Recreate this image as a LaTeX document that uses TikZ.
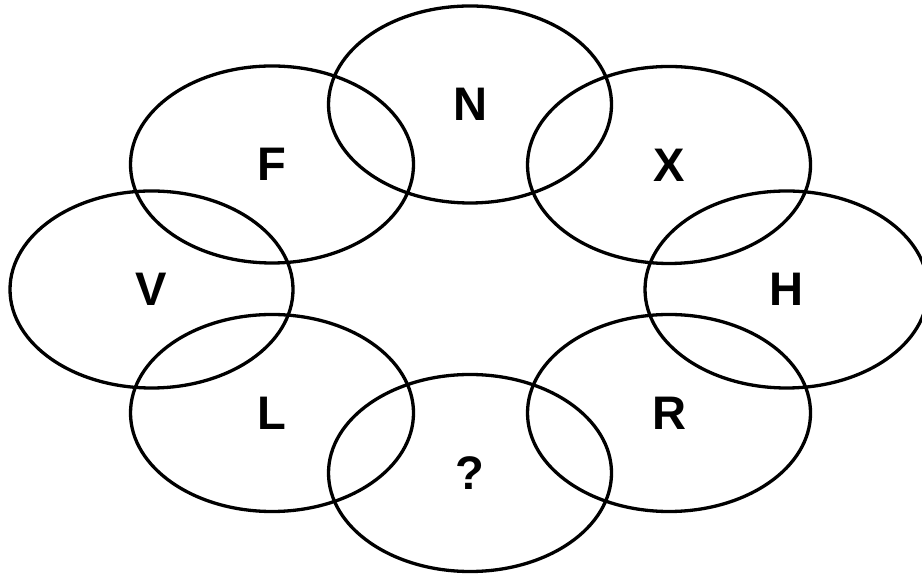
\documentclass[tikz,border=0pt]{standalone}
\usepackage{fontspec}
\setmainfont{Liberation Sans}
\usetikzlibrary{shapes.geometric}
\tikzset{
  ring/.style={draw, ellipse, line width=0.033cm, minimum width=2.83cm, minimum height=1.97cm,
    inner sep=0pt, font=\fontsize{13.4}{15}\selectfont\bfseries}
}
\begin{document}
\begin{tikzpicture}
\useasboundingbox (0,0) rectangle (9.22,5.75);
\clip (0,0) rectangle (9.22,5.75);
\node[ring] (n) at (4.70,4.705) {N};
\node[ring] (f) at (2.72,4.105) {F};
\node[ring] (x) at (6.69,4.10) {X};
\node[ring] (v) at (1.515,2.855) {V};
\node[ring] (h) at (7.865,2.855) {H};
\node[ring] (l) at (2.72,1.62) {L};
\node[ring] (r) at (6.69,1.62) {R};
\node[ring] (q) at (4.70,1.02) {?};
\end{tikzpicture}
\end{document}
